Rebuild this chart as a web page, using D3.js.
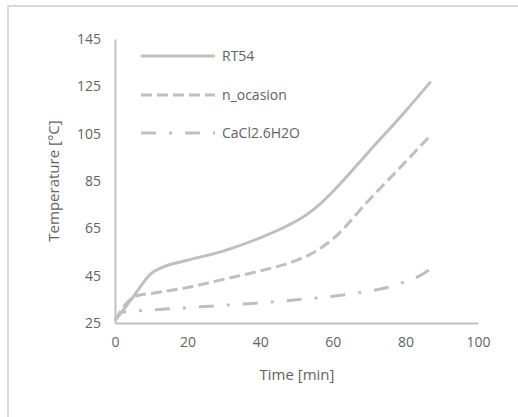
<!DOCTYPE html>
<html lang="en">
<head>
  <meta charset="UTF-8">
  <script src="https://cdn.jsdelivr.net/npm/d3@7/dist/d3.min.js"></script>
  <title>Temperature vs time</title>
  <style>
    body { margin: 0; background: #fff; }
    * { font-family: 'Open Sans', sans-serif; }
    text { fill: #636363; }
  </style>
</head>
<body>
  <script>
    // data
    const seriesNames = ['RT54', 'n_ocasion', 'CaCl2.6H2O'];
    const rtTime = [0, 5, 10, 13, 20, 30, 40, 48, 53, 57, 60, 70, 80, 87];
    const rtTemp = [26, 36, 46, 48.5, 51.5, 55.5, 61, 66.5, 71, 76, 80.5, 97.5, 114.5, 127];
    const noTime = [0, 3, 6, 10, 20, 30, 40, 50, 55, 60, 70, 80, 87];
    const noTemp = [26, 33, 36.5, 37.5, 40, 43.5, 47, 51.5, 55, 60.5, 77, 93, 104.5];
    const caTime = [0, 2, 5, 10, 20, 30, 40, 50, 60, 70, 75, 80, 84, 87];
    const caTemp = [26, 29.5, 30, 30.5, 31.5, 32.5, 33.5, 34.8, 36.3, 38.5, 40, 42.5, 45, 48];
    const xTicks = [0, 20, 40, 60, 80, 100];
    const yTicks = [25, 45, 65, 85, 105, 125, 145];

    const width = 518, height = 417;
    const plotLeft = 115, plotRight = 478, plotTop = 39, plotBottom = 323;
    const grey = '#bfbfbf';

    const svg = d3.select('body').append('svg').attr('width', width).attr('height', height);

    // outer chart frame
    svg.append('rect').attr('x', 8).attr('y', 6).attr('width', 530).attr('height', 430)
      .attr('fill', 'none').attr('stroke', '#d9d9d9').attr('stroke-width', 2);

    const x = d3.scaleLinear().domain([0, 100]).range([plotLeft, plotRight]);
    const y = d3.scaleLinear().domain([25, 145]).range([plotBottom, plotTop]);

    const axisX = d3.axisBottom(x).tickValues(xTicks).tickSize(0).tickPadding(14);
    const axisY = d3.axisLeft(y).tickValues(yTicks).tickSize(0).tickPadding(14);

    const gx = svg.append('g').attr('transform', `translate(0,${plotBottom})`).call(axisX);
    const gy = svg.append('g').attr('transform', `translate(${plotLeft},0)`).call(axisY);
    [gx, gy].forEach(g => {
      g.select('.domain').attr('stroke', grey).attr('stroke-width', 2);
      g.selectAll('.tick text').attr('font-size', 14).attr('fill', '#636363');
    });

    svg.append('text').attr('x', 297).attr('y', 380).attr('text-anchor', 'middle')
      .attr('font-size', 15).text('Time [min]');
    svg.append('text').attr('transform', `translate(59,${(plotTop + plotBottom) / 2}) rotate(-90)`)
      .attr('text-anchor', 'middle').attr('font-size', 15).text('Temperature [°C]');

    const series = [
      { name: seriesNames[0], t: rtTime, v: rtTemp, dash: null },
      { name: seriesNames[1], t: noTime, v: noTemp, dash: '11,5' },
      { name: seriesNames[2], t: caTime, v: caTemp, dash: '15,13,3,13' }
    ];

    const line = d3.line().x(d => x(d[0])).y(d => y(d[1])).curve(d3.curveMonotoneX);

    // draw dashed ones first so the solid line sits on top
    series.slice().reverse().forEach(s => {
      svg.append('path').datum(d3.zip(s.t, s.v))
        .attr('d', line).attr('fill', 'none')
        .attr('stroke', grey).attr('stroke-width', 3)
        .attr('stroke-dasharray', s.dash);
    });

    // legend
    const legendY = [56, 95, 133];
    series.forEach((s, i) => {
      const g = svg.append('g').attr('transform', `translate(141,${legendY[i]})`);
      g.append('line').attr('x1', 0).attr('x2', 74)
        .attr('stroke', grey).attr('stroke-width', 3).attr('stroke-dasharray', s.dash);
      g.append('text').attr('x', 81).attr('dy', '0.35em').attr('font-size', 14).text(s.name);
    });
  </script>
</body>
</html>
